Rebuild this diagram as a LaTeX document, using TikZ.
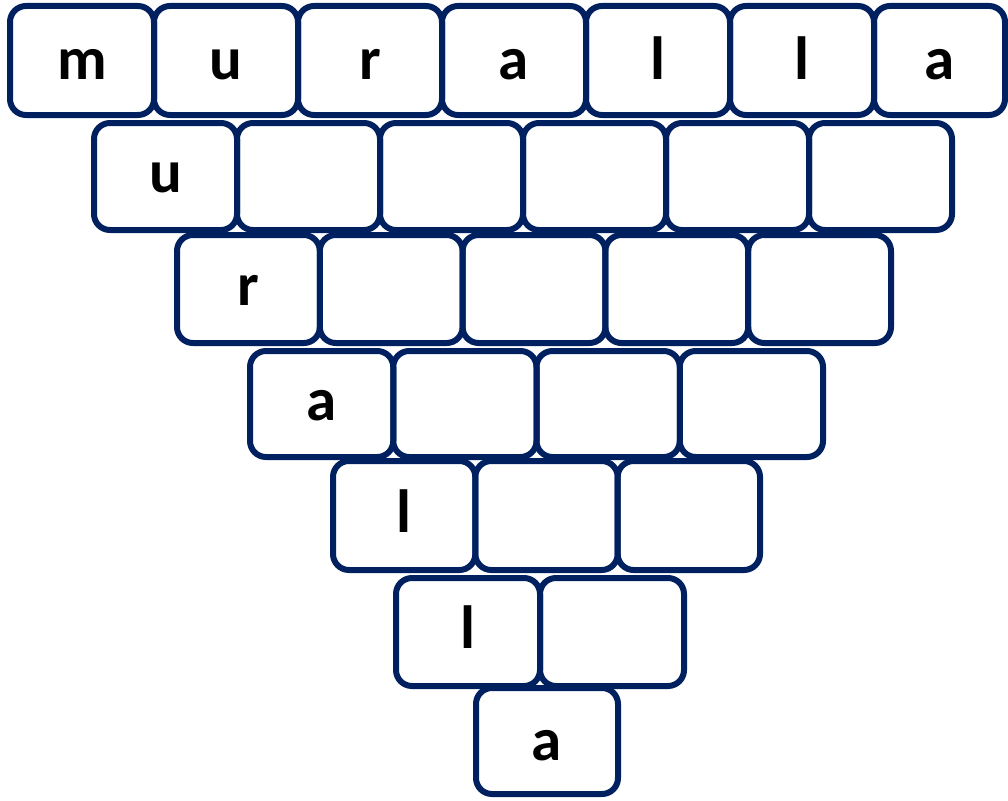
\documentclass[tikz,border=0pt]{standalone}
\usepackage{fontspec}
\setmainfont{Carlito}
\definecolor{navy}{RGB}{0,32,96}
\begin{document}
\begin{tikzpicture}[x=1pt,y=-1pt,
  cell/.style={draw=navy,line width=6pt,rounded corners=16pt,fill=none,inner sep=0pt},
  letter/.style={anchor=base,inner sep=0pt,font=\fontsize{61}{61}\selectfont\bfseries,text=black}]
\useasboundingbox (0,0) rectangle (1008,800);
% top row: six equal boxes and a narrower last one
\foreach \c in {1,...,6}{
  \pgfmathsetmacro{\cx}{10+144*(\c-0.5)}
  \node[cell,minimum width=144pt,minimum height=109pt] (r1c\c) at (\cx,60.5) {};
}
\node[cell,minimum width=131pt,minimum height=109pt] (r1c7) at (939.5,60.5) {};
% other rows: n, outer left, outer right, outer top, outer bottom
\foreach \r/\n/\L/\R/\T/\B in {2/6/91/955/120/233, 3/5/174/894/232/346, 4/4/247/826/348/460, 5/3/330/763/458/573, 6/2/393/687/575/689, 7/1/473/621/685/797}{
  \pgfmathsetmacro{\w}{(\R-\L-6)/\n}
  \pgfmathsetmacro{\h}{\B-\T-6}
  \pgfmathsetmacro{\cy}{(\T+\B)/2}
  \foreach \c in {1,...,\n}{
    \pgfmathsetmacro{\cx}{\L+3+\w*(\c-0.5)}
    \node[cell,minimum width=\w pt,minimum height=\h pt] (r\r c\c) at (\cx,\cy) {};
  }
}
% letters of the top row
\foreach \c/\t in {1/m,2/u,3/r,4/a,5/l,6/l,7/a}{
  \node[letter] (t1\c) at ([yshift=-19pt]r1c\c.center) {\t};
}
% letters down the left diagonal
\node[letter] (t2) at ([yshift=-16pt]r2c1.center) {u};
\node[letter] (t3) at ([yshift=-16pt]r3c1.center) {r};
\node[letter] (t4) at ([yshift=-16pt]r4c1.center) {a};
\node[letter] (t5) at ([yshift=-17pt]r5c1.center) {l};
\node[letter] (t6) at ([yshift=-16pt]r6c1.center) {l};
\node[letter] (t7) at ([yshift=-19pt]r7c1.center) {a};
\end{tikzpicture}
\end{document}
